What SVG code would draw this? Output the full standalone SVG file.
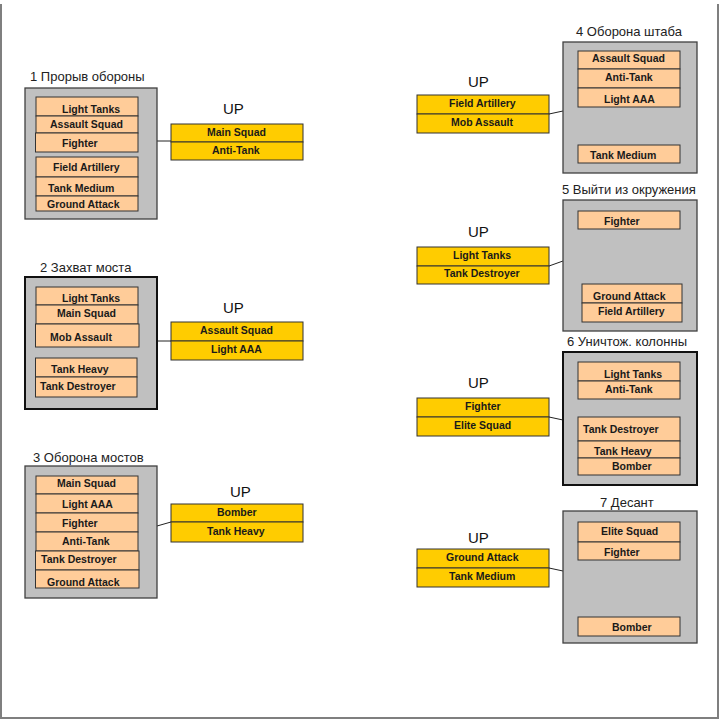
<svg xmlns="http://www.w3.org/2000/svg" width="720" height="720" viewBox="0 0 720 720">
<style>
.bg{fill:#ffffff}
.frame{fill:none;stroke:#7f7f7f;stroke-width:2}
.panel{fill:#c0c0c0;stroke:#404040;stroke-width:1.3}
.panel.strong{stroke:#111111;stroke-width:2}
.item{fill:#ffcc99;stroke:#333333;stroke-width:1}
.up{fill:#ffcc00;stroke:#333333;stroke-width:1}
.title{font-family:"Liberation Sans",Arial,sans-serif;font-size:13px;fill:#222222}
.uplbl{font-family:"Liberation Sans",Arial,sans-serif;font-size:15px;fill:#111111}
.t{font-family:"Liberation Sans",Arial,sans-serif;font-size:10.5px;font-weight:bold;fill:#1a1a1a}
.conn{fill:none;stroke:#222222;stroke-width:1}
</style>
<rect class="bg" x="0" y="0" width="720" height="720"/>
<polyline class="frame" points="1,4 1,718 718,718 718,4"/>

<g id="connectors">
<line class="conn" x1="157" y1="141" x2="171" y2="141"/>
<line class="conn" x1="157" y1="341" x2="171" y2="341"/>
<line class="conn" x1="157" y1="526" x2="171" y2="522"/>
<line class="conn" x1="549" y1="114" x2="563" y2="111"/>
<line class="conn" x1="549" y1="266" x2="563" y2="261"/>
<line class="conn" x1="549" y1="417" x2="563" y2="420"/>
<line class="conn" x1="549" y1="568" x2="563" y2="571"/>
</g>

<g id="panel1">
<text class="title" x="30" y="81">1 Прорыв обороны</text>
<rect class="panel" x="25" y="88" width="132" height="131"/>
<rect class="item" x="36" y="97" width="102" height="19"/>
<rect class="item" x="36" y="116" width="102" height="17"/>
<rect class="item" x="35.5" y="133" width="102.5" height="19"/>
<rect class="item" x="36" y="157" width="102" height="20"/>
<rect class="item" x="36" y="177" width="102" height="19"/>
<rect class="item" x="36" y="196" width="102" height="15"/>
<text class="t" x="62" y="113">Light Tanks</text>
<text class="t" x="50" y="128">Assault Squad</text>
<text class="t" x="62" y="147">Fighter</text>
<text class="t" x="53" y="171">Field Artillery</text>
<text class="t" x="48" y="192">Tank Medium</text>
<text class="t" x="47" y="208">Ground Attack</text>
</g>

<g id="up1">
<text class="uplbl" x="223" y="114">UP</text>
<rect class="up" x="171" y="124" width="132" height="18"/>
<rect class="up" x="171" y="142" width="132" height="18"/>
<text class="t" x="207" y="136">Main Squad</text>
<text class="t" x="212" y="154">Anti-Tank</text>
</g>

<g id="panel2">
<text class="title" x="40" y="272">2 Захват моста</text>
<rect class="panel strong" x="25" y="277" width="132" height="132"/>
<rect class="item" x="36" y="287" width="102" height="18"/>
<rect class="item" x="36" y="305" width="102" height="19"/>
<rect class="item" x="35.5" y="324" width="103.5" height="23"/>
<rect class="item" x="35.5" y="358" width="101.5" height="19"/>
<rect class="item" x="35.5" y="377" width="101.5" height="20"/>
<text class="t" x="62" y="302">Light Tanks</text>
<text class="t" x="57" y="317">Main Squad</text>
<text class="t" x="50" y="341">Mob Assault</text>
<text class="t" x="51" y="373">Tank Heavy</text>
<text class="t" x="40" y="390">Tank Destroyer</text>
</g>

<g id="up2">
<text class="uplbl" x="223" y="313">UP</text>
<rect class="up" x="171" y="322" width="132" height="19"/>
<rect class="up" x="171" y="341" width="132" height="19"/>
<text class="t" x="200" y="334">Assault Squad</text>
<text class="t" x="211" y="353">Light AAA</text>
</g>

<g id="panel3">
<text class="title" x="33" y="462">3 Оборона мостов</text>
<rect class="panel" x="25" y="466" width="132" height="132"/>
<rect class="item" x="36" y="476" width="102" height="18"/>
<rect class="item" x="36" y="494" width="102" height="19"/>
<rect class="item" x="36" y="513" width="102" height="19"/>
<rect class="item" x="36" y="532" width="102" height="19"/>
<rect class="item" x="35.5" y="551" width="103.5" height="19"/>
<rect class="item" x="35.5" y="570" width="103.5" height="18"/>
<text class="t" x="57" y="487">Main Squad</text>
<text class="t" x="62" y="508">Light AAA</text>
<text class="t" x="62" y="527">Fighter</text>
<text class="t" x="62" y="545">Anti-Tank</text>
<text class="t" x="41" y="563">Tank Destroyer</text>
<text class="t" x="47" y="586">Ground Attack</text>
</g>

<g id="up3">
<text class="uplbl" x="230" y="497">UP</text>
<rect class="up" x="171" y="504" width="132" height="18"/>
<rect class="up" x="171" y="522" width="132" height="20"/>
<text class="t" x="217" y="516">Bomber</text>
<text class="t" x="207" y="535">Tank Heavy</text>
</g>

<g id="panel4">
<text class="title" x="576" y="36">4 Оборона штаба</text>
<rect class="panel" x="563" y="42" width="134" height="131"/>
<rect class="item" x="578" y="51" width="102" height="18"/>
<rect class="item" x="578" y="69" width="102" height="19"/>
<rect class="item" x="578" y="88" width="102" height="19"/>
<rect class="item" x="578" y="145" width="102" height="18"/>
<text class="t" x="592" y="62">Assault Squad</text>
<text class="t" x="605" y="81">Anti-Tank</text>
<text class="t" x="604" y="103">Light AAA</text>
<text class="t" x="590" y="159">Tank Medium</text>
</g>

<g id="up4">
<text class="uplbl" x="468" y="87">UP</text>
<rect class="up" x="417" y="95" width="132" height="19"/>
<rect class="up" x="417" y="114" width="132" height="19"/>
<text class="t" x="449" y="107">Field Artillery</text>
<text class="t" x="451" y="126">Mob Assault</text>
</g>

<g id="panel5">
<text class="title" x="562" y="194">5 Выйти из окружения</text>
<rect class="panel" x="563" y="200" width="134" height="131"/>
<rect class="item" x="578" y="211" width="102" height="18"/>
<rect class="item" x="582" y="284" width="100" height="19"/>
<rect class="item" x="582" y="303" width="100" height="19"/>
<text class="t" x="604" y="225">Fighter</text>
<text class="t" x="593" y="300">Ground Attack</text>
<text class="t" x="598" y="315">Field Artillery</text>
</g>

<g id="up5">
<text class="uplbl" x="468" y="237">UP</text>
<rect class="up" x="417" y="247" width="132" height="19"/>
<rect class="up" x="417" y="266" width="132" height="18"/>
<text class="t" x="453" y="259">Light Tanks</text>
<text class="t" x="444" y="277">Tank Destroyer</text>
</g>

<g id="panel6">
<text class="title" x="567" y="346">6 Уничтож. колонны</text>
<rect class="panel strong" x="563" y="352" width="134" height="133"/>
<rect class="item" x="578" y="362" width="102" height="19"/>
<rect class="item" x="578" y="381" width="102" height="18"/>
<rect class="item" x="578" y="417" width="102" height="24"/>
<rect class="item" x="578" y="441" width="102" height="17"/>
<rect class="item" x="578" y="458" width="102" height="17"/>
<text class="t" x="604" y="378">Light Tanks</text>
<text class="t" x="605" y="393">Anti-Tank</text>
<text class="t" x="583" y="433">Tank Destroyer</text>
<text class="t" x="594" y="455">Tank Heavy</text>
<text class="t" x="612" y="470">Bomber</text>
</g>

<g id="up6">
<text class="uplbl" x="468" y="388">UP</text>
<rect class="up" x="417" y="398" width="132" height="19"/>
<rect class="up" x="417" y="417" width="132" height="19"/>
<text class="t" x="465" y="410">Fighter</text>
<text class="t" x="454" y="429">Elite Squad</text>
</g>

<g id="panel7">
<text class="title" x="600" y="507">7 Десант</text>
<rect class="panel" x="563" y="511" width="134" height="132"/>
<rect class="item" x="578" y="522" width="102" height="20"/>
<rect class="item" x="578" y="542" width="102" height="18"/>
<rect class="item" x="578" y="617" width="102" height="19"/>
<text class="t" x="601" y="535">Elite Squad</text>
<text class="t" x="604" y="556">Fighter</text>
<text class="t" x="612" y="631">Bomber</text>
</g>

<g id="up7">
<text class="uplbl" x="468" y="543">UP</text>
<rect class="up" x="417" y="549" width="132" height="19"/>
<rect class="up" x="417" y="568" width="132" height="19"/>
<text class="t" x="446" y="561">Ground Attack</text>
<text class="t" x="449" y="580">Tank Medium</text>
</g>
</svg>
